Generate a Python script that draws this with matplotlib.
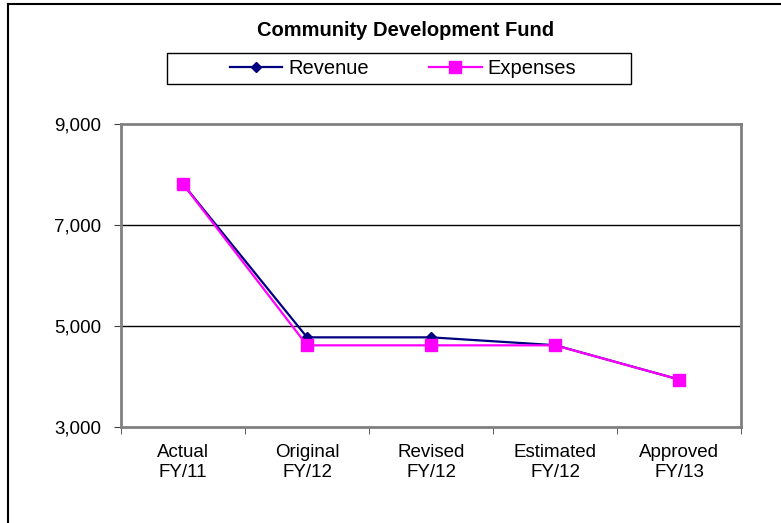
import matplotlib
matplotlib.use('Agg')
import matplotlib.pyplot as plt
from matplotlib.lines import Line2D
from matplotlib.patches import Rectangle

plt.rc('font', family=['Liberation Sans', 'DejaVu Sans'])

categories = ['Actual\nFY/11', 'Original\nFY/12', 'Revised\nFY/12', 'Estimated\nFY/12', 'Approved\nFY/13']
revenue = [7810, 4775, 4775, 4620, 3940]
expenses = [7810, 4617, 4617, 4617, 3940]
yticks = [3000, 5000, 7000, 9000]

fig = plt.figure(figsize=(7.81, 5.23), dpi=100)
ax = fig.add_axes([0.155, 0.1836, 0.7939, 0.5793])

x = list(range(len(categories)))
ax.plot(x, revenue, color='#000080', lw=1.6, marker='D', ms=5.5, label='Revenue', zorder=3)
ax.plot(x, expenses, color='#FF00FF', lw=1.6, marker='s', ms=8.5, label='Expenses', zorder=4)

ax.set_xlim(-0.5, len(categories) - 0.5)
ax.set_ylim(3000, 9000)
ax.set_yticks(yticks)
ax.set_yticklabels([f'{v:,}' for v in yticks])
ax.set_xticks(x)
ax.set_xticklabels(categories, linespacing=1.25)
ax.set_xticks([i - 0.5 for i in range(len(categories) + 1)], minor=True)
ax.tick_params(axis='x', which='major', length=0, pad=12, labelsize=13.5)
ax.tick_params(axis='x', which='minor', length=5, color='#404040', direction='out')
ax.tick_params(axis='y', length=5, color='#404040', labelsize=13.5, pad=9)

for y in [5000, 7000]:
    ax.axhline(y, color='black', lw=1.0, zorder=1)
for side in ax.spines.values():
    side.set_color('#808080')
    side.set_linewidth(2)

# legend below the title, with its own box
handles = [Line2D([], [], color='#000080', lw=1.6, marker='D', ms=5.5),
           Line2D([], [], color='#FF00FF', lw=1.6, marker='s', ms=8.5)]
leg = fig.legend(handles, ['Revenue', 'Expenses'], loc='center', bbox_to_anchor=(403 / 781, 1 - 69 / 523),
                 ncol=2, fontsize=14.5, frameon=False, borderpad=0.2, handlelength=2.6,
                 handletextpad=0.3, columnspacing=3.0, borderaxespad=0)
fig.add_artist(Rectangle((167 / 781, 1 - 84 / 523), 464 / 781, 31 / 523, transform=fig.transFigure,
                         fill=False, edgecolor='black', lw=1.0))

fig.text(406 / 781, 1 - 31 / 523, 'Community Development Fund', ha='center', va='center',
         fontsize=14.5, fontweight='bold')

# chart outer border (top and left visible)
fig.add_artist(Line2D([8 / 781, 8 / 781], [0, 1 - 4 / 523], color='black', lw=1.5, transform=fig.transFigure))
fig.add_artist(Line2D([8 / 781, 1], [1 - 4 / 523, 1 - 4 / 523], color='black', lw=1.5, transform=fig.transFigure))

fig.savefig('out.png', dpi=100)
